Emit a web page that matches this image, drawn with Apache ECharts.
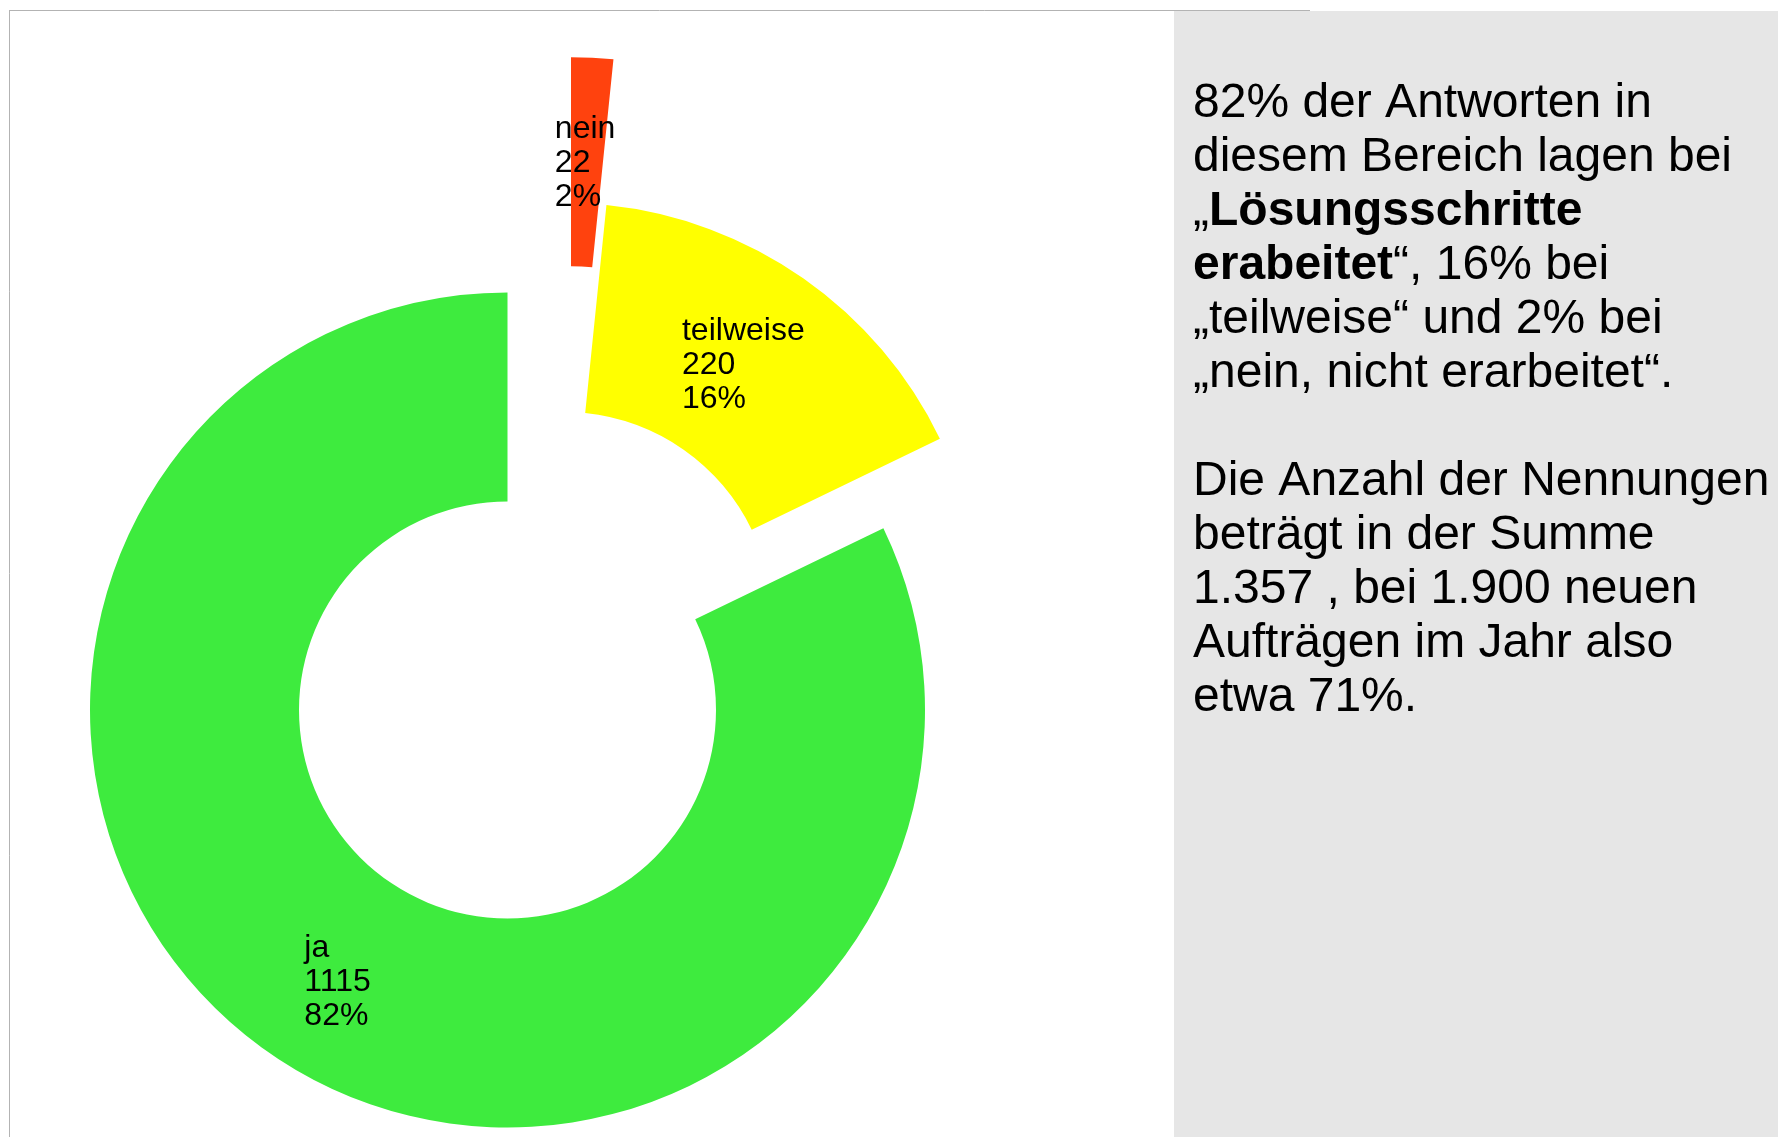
<!DOCTYPE html>
<html>
<head>
<meta charset="utf-8">
<script src="https://cdn.jsdelivr.net/npm/echarts@6/dist/echarts.min.js"></script>
<style>
  html, body { margin: 0; padding: 0; background: #ffffff; }
  #chart { width: 1778px; height: 1137px; }
</style>
</head>
<body>
<div id="chart"></div>
<script>
// ---- data ----
const categories = ['nein', 'teilweise', 'ja'];
const values = [22, 220, 1115];
const colors = ['#FF420E', '#FFFF00', '#3EEB3E'];

// ---- text panel ----
const paragraph1 = [
  '82% der Antworten in',
  'diesem Bereich lagen bei',
  '„{b|Lösungsschritte}',
  '{b|erabeitet}“, 16% bei',
  '„teilweise“ und 2% bei',
  '„nein, nicht erarbeitet“.'
];
const paragraph2 = [
  'Die Anzahl der Nennungen',
  'beträgt in der Summe',
  '1.357 , bei 1.900 neuen',
  'Aufträgen im Jahr also',
  'etwa 71%.'
];

// ---- layout (positions of each exploded slice's centre) ----
const FONT = 'Liberation Sans, Arial, sans-serif';
const radius = [208.5, 417.5];
const centers = [[571, 474.7], [564, 620.4], [507.5, 710]];

const chart = echarts.init(document.getElementById('chart'), null, { renderer: 'canvas' });

const series = categories.map((cat, k) => ({
  type: 'pie',
  name: cat,
  radius: radius,
  center: centers[k],
  startAngle: 90,
  clockwise: true,
  percentPrecision: 0,
  silent: true,
  animation: false,
  avoidLabelOverlap: false,
  z: 2 + k,
  emphasis: { disabled: true },
  itemStyle: { borderWidth: 0 },
  label: {
    show: true,
    position: 'inside',
    formatter: '{b}\n{c}\n{d}%',
    fontFamily: FONT,
    fontSize: 32,
    lineHeight: 34,
    color: '#000000'
  },
  labelLine: { show: false },
  labelLayout: function (params) {
    if (!params.labelRect) return {};
    return {
      x: params.labelRect.x - 2,
      y: params.labelRect.y + params.labelRect.height / 2 + 4,
      align: 'left',
      verticalAlign: 'middle'
    };
  },
  data: categories.map((c, i) => ({
    name: c,
    value: values[i],
    itemStyle: { color: i === k ? colors[i] : 'rgba(0,0,0,0)' },
    label: { show: i === k }
  }))
}));

const richStyle = {
  b: { fontFamily: FONT, fontSize: 48, lineHeight: 54, fontWeight: 'bold', fill: '#000000' }
};

const option = {
  backgroundColor: '#ffffff',
  animation: false,
  series: series,
  graphic: [
    {
      type: 'rect', z: 0, silent: true,
      shape: { x: 1174, y: 11, width: 604, height: 1126 },
      style: { fill: '#E6E6E6' }
    },
    {
      type: 'line', z: 1, silent: true,
      shape: { x1: 9, y1: 10.5, x2: 1310, y2: 10.5 },
      style: { stroke: '#b3b3b3', lineWidth: 1 }
    },
    {
      type: 'line', z: 1, silent: true,
      shape: { x1: 9.5, y1: 10, x2: 9.5, y2: 1137 },
      style: { stroke: '#b3b3b3', lineWidth: 1 }
    },
    {
      type: 'text', z: 10, silent: true,
      x: 1193, y: 77,
      style: {
        text: paragraph1.join('\n'),
        fontFamily: FONT, fontSize: 48,
        lineHeight: 54,
        fill: '#000000',
        align: 'left',
        verticalAlign: 'top',
        rich: richStyle
      }
    },
    {
      type: 'text', z: 10, silent: true,
      x: 1193, y: 77 + 54 * 7,
      style: {
        text: paragraph2.join('\n'),
        fontFamily: FONT, fontSize: 48,
        lineHeight: 54,
        fill: '#000000',
        align: 'left',
        verticalAlign: 'top',
        rich: richStyle
      }
    }
  ]
};

chart.setOption(option);
</script>
</body>
</html>
